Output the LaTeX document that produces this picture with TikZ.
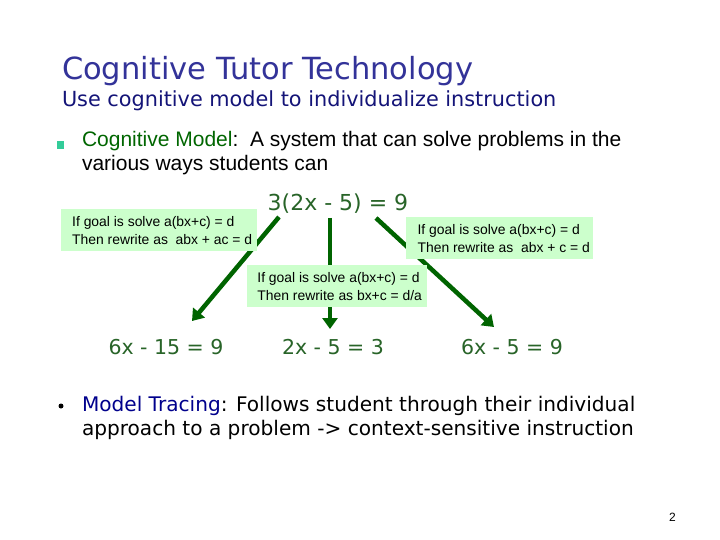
\documentclass[tikz,border=0pt]{standalone}
\usepackage{fontspec}
\setmainfont{Liberation Sans}
\newfontfamily\verd{DejaVu Sans}
\usetikzlibrary{arrows.meta}
\definecolor{titleblue}{RGB}{51,51,153}
\definecolor{subblue}{RGB}{20,20,120}
\definecolor{termgreen}{RGB}{0,102,0}
\definecolor{eqgreen}{RGB}{40,100,40}
\definecolor{arrowgreen}{RGB}{0,100,0}
\definecolor{boxgreen}{RGB}{204,255,204}
\definecolor{bulletteal}{RGB}{51,204,153}
\definecolor{tracenavy}{RGB}{0,0,140}
\tikzset{
  txt/.style={anchor=base west, inner sep=0pt, outer sep=0pt},
  rulebox/.style={fill=boxgreen, anchor=north west, inner sep=0pt, minimum width=#1, minimum height=42pt, align=left, font=\fontsize{13.9}{18}\selectfont},
  eq/.style={anchor=base, inner sep=0pt, text=eqgreen, font=\verd\fontsize{20.5}{24}\selectfont},
  flow/.style={draw=arrowgreen, line width=4.5pt, -{Triangle[length=11pt,width=15pt]}}
}
\begin{document}
\begin{tikzpicture}[x=1pt,y=-1pt]
\useasboundingbox[fill=white] (0,0) rectangle (720,540);
% title
\node[txt, text=titleblue, font=\verd\fontsize{30.5}{34}\selectfont] (title) at (62,80) {Cognitive Tutor Technology};
\node[txt, text=subblue, font=\verd\fontsize{20.8}{24}\selectfont] (sub) at (62,107) {Use cognitive model to individualize instruction};
% bullet 1
\node[fill=bulletteal, minimum size=7.5pt, inner sep=0pt] (sq) at (60.5,145) {};
\node[txt, font=\fontsize{21}{24}\selectfont] (cm1) at (82,147) {\textcolor{termgreen}{Cognitive Model}:\ \ A system that can solve problems in the};
\node[txt, font=\fontsize{21}{24}\selectfont] (cm2) at (82,171) {various ways students can};
% equations
\node[eq, font=\verd\fontsize{22}{24}\selectfont] (top) at (338,211) {3(2x - 5) = 9};
\node[eq] (e1) at (166,354) {6x - 15 = 9};
\node[eq] (e2) at (333,354) {2x - 5 = 3};
\node[eq] (e3) at (512,354) {6x - 5 = 9};
% arrow coordinates
\coordinate (ls) at (279,217);
\coordinate (le) at (192,321);
\coordinate (ms) at (330,218);
\coordinate (me) at (330,329);
\coordinate (rs) at (376,218);
\coordinate (re) at (494,327);
\draw[flow] (ls) -- (le);
\draw[flow] (ms) -- (me);
\draw[flow] (rs) -- (re);
% rule boxes
\node[rulebox=196pt] (b1) at (61,209) {\hspace*{6pt}If goal is solve a(bx+c) = d\\\hspace*{6pt}Then rewrite as\ \ abx + ac = d};
\node[rulebox=187pt] (b3) at (406,217) {\hspace*{8pt}If goal is solve a(bx+c) = d\\\hspace*{8pt}Then rewrite as\ \ abx + c = d};
\node[rulebox=180pt] (b2) at (247,265) {\hspace*{5pt}If goal is solve a(bx+c) = d\\\hspace*{5pt}Then rewrite as bx+c = d/a};
% bullet 2
\node[circle, fill=black, minimum size=5pt, inner sep=0pt] (dot) at (61,406) {};
\node[txt, font=\verd\fontsize{20.1}{24}\selectfont] (mt1) at (82,411) {\textcolor{tracenavy}{Model Tracing}: Follows student through their individual};
\node[txt, font=\verd\fontsize{20.1}{24}\selectfont] (mt2) at (82,435) {approach to a problem -> context-sensitive instruction};
% page number
\node[txt, font=\fontsize{12}{14}\selectfont] (pg) at (669,521) {2};
\end{tikzpicture}
\end{document}
